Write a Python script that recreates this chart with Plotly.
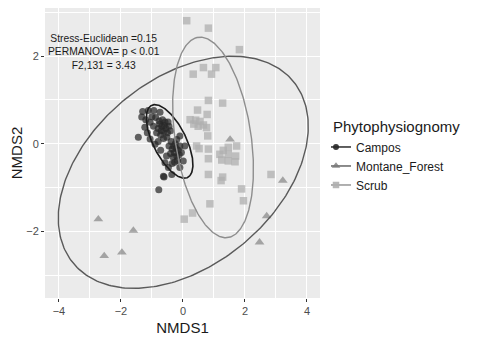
import numpy as np
import plotly.graph_objects as go

# ---------------- data ----------------
groups = ["Campos", "Montane_Forest", "Scrub"]

campos_x = [-0.75, -0.68, -0.60, -0.55, -0.70, -0.62, -0.50, -0.80, -0.58, -0.66, -0.45, -0.72,
            -0.85, -0.52, -0.40, -0.63, -0.77, -0.48,
            -1.30, -1.33, -1.12, -0.94, -0.74, -1.23, -1.44, -1.06, -1.06, -0.90, -1.00, -1.20,
            -0.88, -0.95, -1.15,
            -0.30, -0.22, -0.15, -0.28, -0.35, -0.20, -0.10, -0.32, -0.25, -0.18, -0.40, -0.12,
            -0.27, -0.05, -0.38, -0.20, -0.35,
            -0.53, -0.58, -0.47, -0.63, -0.36, -0.10, 0.01, 0.06, -0.10, -0.78, -0.61, -0.72,
            -0.80, -0.45]
campos_y = [0.45, 0.40, 0.42, 0.35, 0.30, 0.28, 0.25, 0.35, 0.50, 0.55, 0.40, 0.20,
            0.25, 0.15, 0.30, 0.12, 0.52, 0.50,
            0.74, 0.61, 0.76, 0.76, 0.72, 0.38, 0.15, 0.49, 0.11, -0.01, 0.62, 0.55,
            0.60, 0.40, 0.25,
            -0.05, -0.10, -0.15, -0.20, -0.12, -0.28, -0.05, -0.30, 0.00, -0.38, -0.22, -0.25,
            -0.42, -0.20, 0.05, 0.10, -0.45,
            -0.28, -0.43, -0.54, -0.74, -0.70, -0.54, -0.39, -0.05, 0.18, -1.05, -0.76, -0.15,
            0.05, -0.05]

montane_x = [1.52, 3.22, 2.70, 2.47, -2.73, -1.60, -2.54, -1.97]
montane_y = [0.10, -0.84, -1.65, -2.25, -1.72, -1.98, -2.56, -2.48]

scrub_x = [0.12, 0.82, 1.82, 0.33, 0.66, 0.92, 1.06,
           0.82, 1.28, 0.47, 0.78, 0.23, 0.41, 0.55, 0.66, 0.49, 0.76, 0.35,
           0.80, 0.44, 0.52, 0.82, 0.82, 1.19, 1.46, 1.25, 1.46, 1.70, 1.68, 1.73, 1.46, 1.30,
           0.82, 1.28, 1.23, 2.84, 1.89, 1.95, 0.87, 0.31, 0.04]
scrub_y = [2.81, 2.64, 2.15, 1.59, 1.74, 1.59, 1.74,
           0.99, 0.93, 0.77, 0.67, 0.55, 0.54, 0.51, 0.43, 0.40, 0.37, 0.45,
           0.18, -0.05, -0.11, -0.12, -0.34, -0.24, -0.24, -0.37, -0.39, -0.28, -0.41, -0.05, -0.08, -0.15,
           -0.70, -0.76, -0.84, -0.70, -1.03, -1.30, -1.37, -1.58, -1.72]

# 95% ellipse parameters per group (centre, semi-axes, rotation)
ellipse_center_x = [-0.43, 0.01, 0.97]
ellipse_center_y = [0.055, -0.65, 0.145]
ellipse_semi_major = [1.02, 4.23, 2.34]
ellipse_semi_minor = [0.48, 2.32, 1.21]
ellipse_angle_deg = [-50.0, 21.2, 104.0]

x_ticks = [-4, -2, 0, 2, 4]
y_ticks = [-2, 0, 2]
stats_text = ["Stress-Euclidean =0.15", "PERMANOVA= p < 0.01", "F2,131 = 3.43"]

# ---------------- styling ----------------
point_colors = ["rgba(40,40,40,0.72)", "rgba(120,120,120,0.62)", "rgba(175,175,175,0.75)"]
legend_point_colors = ["rgba(40,40,40,0.9)", "rgba(120,120,120,0.8)", "rgba(175,175,175,0.9)"]
line_colors = ["#1c1c1c", "#5a5a5a", "#8e8e8e"]
symbols = ["circle", "triangle-up", "square"]
sizes = [7, 8.5, 7.5]

pts = [(campos_x, campos_y), (montane_x, montane_y), (scrub_x, scrub_y)]

fig = go.Figure()
for i, g in enumerate(groups):
    fig.add_trace(go.Scatter(x=pts[i][0], y=pts[i][1], mode="markers", name=g,
                             showlegend=False,
                             marker=dict(symbol=symbols[i], size=sizes[i], color=point_colors[i],
                                         line=dict(width=0))))

t = np.linspace(0, 2 * np.pi, 300)
for i, g in enumerate(groups):
    th = np.deg2rad(ellipse_angle_deg[i])
    a, b = ellipse_semi_major[i], ellipse_semi_minor[i]
    ex = ellipse_center_x[i] + a * np.cos(t) * np.cos(th) - b * np.sin(t) * np.sin(th)
    ey = ellipse_center_y[i] + a * np.cos(t) * np.sin(th) + b * np.sin(t) * np.cos(th)
    fig.add_trace(go.Scatter(x=ex, y=ey, mode="lines", showlegend=False,
                             line=dict(color=line_colors[i], width=1.6 if i == 0 else 1.4),
                             hoverinfo="skip"))

# legend entries (point + line like ggplot keys)
for i, g in enumerate(groups):
    fig.add_trace(go.Scatter(x=[None], y=[None], mode="lines+markers", name=g,
                             marker=dict(symbol=symbols[i], size=sizes[i] - 1,
                                         color=legend_point_colors[i]),
                             line=dict(color=line_colors[i], width=1.4)))

fig.add_annotation(x=-2.55, y=2.10, xref="x", yref="y", text="<br>".join(stats_text),
                   showarrow=False, align="center", xanchor="center", yanchor="middle",
                   font=dict(size=10.3, color="#1a1a1a"))

axis_common = dict(showgrid=True, gridcolor="white", gridwidth=1.1, zeroline=False,
                   ticks="outside", ticklen=3, tickcolor="#333333", tickwidth=1,
                   tickfont=dict(size=11, color="#4d4d4d"), showline=False, automargin=False)

# page body adds an 8px offset; figure sized so everything fits in the window
fig.update_layout(
    width=466, height=328,
    margin=dict(l=37, r=154, t=0, b=38),
    plot_bgcolor="#ebebeb", paper_bgcolor="white",
    font=dict(family="Liberation Sans, Arial, sans-serif", color="#1a1a1a"),
    xaxis=dict(range=[-4.45, 4.42], tickvals=x_ticks,
               minor=dict(tickvals=[-3, -1, 1, 3], showgrid=True, gridcolor="white",
                          gridwidth=0.5, ticks=""),
               title=dict(text="NMDS1", font=dict(size=15, color="#1a1a1a"), standoff=10),
               **axis_common),
    yaxis=dict(range=[-3.52, 3.10], tickvals=y_ticks,
               minor=dict(tickvals=[-3, -1, 1, 3], showgrid=True, gridcolor="white",
                          gridwidth=0.5, ticks=""),
               title=dict(text="NMDS2", font=dict(size=15, color="#1a1a1a"), standoff=0),
               **axis_common),
    legend=dict(title=dict(text="Phytophysiognomy", font=dict(size=15, color="#1a1a1a")),
                font=dict(size=12, color="#1a1a1a"),
                x=1.04, y=0.638, xanchor="left", yanchor="top", tracegroupgap=0,
                bgcolor="rgba(0,0,0,0)", itemwidth=30, indentation=-15),
    showlegend=True,
)

fig.write_html("out.html")
